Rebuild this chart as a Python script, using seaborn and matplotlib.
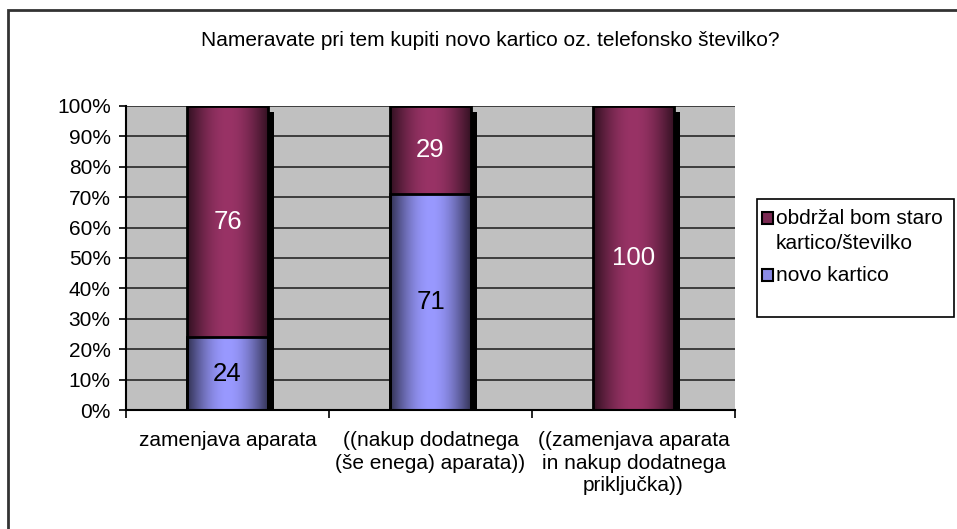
import numpy as np
import pandas as pd
import matplotlib
matplotlib.use("Agg")
import matplotlib.pyplot as plt
import matplotlib.transforms as mtransforms
from matplotlib.patches import Rectangle
import seaborn as sns

# --- data -------------------------------------------------------------
title = "Nameravate pri tem kupiti novo kartico oz. telefonsko številko?"
categories = [
    "zamenjava aparata",
    "((nakup dodatnega\n(še enega) aparata))",
    "((zamenjava aparata\nin nakup dodatnega\npriključka))",
]
series_names = ["obdržal bom staro\nkartico/številko", "novo kartico"]
keep_old = [76, 29, 100]
new_card = [24, 71, 0]
y_ticks = list(range(0, 101, 10))

MAROON = np.array([153, 51, 102]) / 255
BLUE = np.array([153, 153, 255]) / 255

df = pd.DataFrame({"kategorija": categories,
                   "obdrzal": keep_old,
                   "novo": new_card})
df["skupaj"] = df["obdrzal"] + df["novo"]

plt.rcParams["font.family"] = ["Liberation Sans", "DejaVu Sans"]
FS = 15

fig = plt.figure(figsize=(9.57, 5.29), dpi=100)
ax = fig.add_axes([126 / 957, 1 - 410 / 529, (735 - 126) / 957, (410 - 106) / 529])
ax.set_facecolor("#c0c0c0")

# stacked bars: total first, lower segment drawn on top of it
sns.barplot(data=df, x="kategorija", y="skupaj", color=MAROON, saturation=1,
            width=0.4, errorbar=None, ax=ax, order=categories)
n_top = len(ax.patches)
sns.barplot(data=df, x="kategorija", y="novo", color=BLUE, saturation=1,
            width=0.4, errorbar=None, ax=ax, order=categories)
top_bars = ax.patches[:n_top]
low_bars = ax.patches[n_top:]


def shade_profile(n=200):
    t = np.linspace(0, 1, n)
    return 0.32 + 0.68 * np.sin(np.pi * t) ** 1.0


prof = shade_profile()

# drop shadow behind each stacked column
shift = mtransforms.ScaledTranslation(6 / 100, -6 / 100, fig.dpi_scale_trans)
for p in top_bars:
    x0, w, h = p.get_x(), p.get_width(), p.get_height()
    sh = Rectangle((x0, 0), w, h, facecolor="black", edgecolor="none",
                   transform=ax.transData + shift, zorder=1.5)
    sh.set_clip_box(ax.bbox)
    ax.add_patch(sh)

# cylinder-like horizontal shading for every segment
for bars, base in ((top_bars, MAROON), (low_bars, BLUE)):
    for p in bars:
        x0, y0, w, h = p.get_x(), p.get_y(), p.get_width(), p.get_height()
        p.set_facecolor("none")
        p.set_edgecolor("black")
        p.set_linewidth(2)
        p.set_zorder(3)
        if h <= 0:
            continue
        img = (prof[:, None] * base[None, :])[None, :, :]
        im = ax.imshow(img, extent=(x0, x0 + w, y0, y0 + h), aspect="auto",
                       interpolation="bilinear", zorder=2)
        im.set_clip_path(p)

ax.set_xlim(-0.5, len(categories) - 0.5)
ax.set_ylim(0, 100)

# segment value labels
for i in range(len(categories)):
    if new_card[i] > 0:
        ax.text(i, new_card[i] / 2, f"{new_card[i]}", ha="center", va="center",
                fontsize=18.5, color="black", zorder=4)
    if keep_old[i] > 0:
        ax.text(i, new_card[i] + keep_old[i] / 2, f"{keep_old[i]}", ha="center",
                va="center", fontsize=18.5, color="white", zorder=4)

# axes styling
ax.set_yticks(y_ticks)
ax.set_yticklabels([f"{v}%" for v in y_ticks], fontsize=FS)
ax.yaxis.grid(True, color="#333333", linewidth=1.3, zorder=1)
ax.set_axisbelow(True)
ax.tick_params(axis="y", length=5, width=1.2, pad=6, color="black")
ax.set_xticks(range(len(categories)))
ax.set_xticklabels(categories, fontsize=FS, linespacing=1.25)
ax.set_xticks(np.arange(-0.5, len(categories), 1.0), minor=True)
ax.tick_params(axis="x", which="major", length=0, pad=15)
ax.tick_params(axis="x", which="minor", length=6, width=1.2, color="black")
ax.set_xlabel("")
ax.set_ylabel("")
for side in ("top", "right"):
    ax.spines[side].set_visible(False)
for side in ("left", "bottom"):
    ax.spines[side].set_color("black")
    ax.spines[side].set_linewidth(1.5)

# title
fig.text(490 / 957, 1 - 40 / 529, title, ha="center", va="center", fontsize=FS)

# legend drawn in figure pixels
W, H = 957, 529
def fx(x):
    return x / W
def fy(y):
    return 1 - y / H

fig.add_artist(Rectangle((fx(757), fy(317)), fx(954) - fx(757), fy(199) - fy(317),
                         transform=fig.transFigure, fill=False, edgecolor="black",
                         linewidth=1.2))
legend_rows = [(series_names[0], MAROON * 0.8, 224), (series_names[1], BLUE * 0.9, 281)]
LINE_STEP = 25
for label, col, base_y in legend_rows:
    fig.add_artist(Rectangle((fx(762), fy(base_y)), fx(773) - fx(762), fy(base_y - 12) - fy(base_y),
                             transform=fig.transFigure, facecolor=col,
                             edgecolor="black", linewidth=1.5))
    for k, line in enumerate(label.split("\n")):
        fig.text(fx(776), fy(base_y + k * LINE_STEP), line, ha="left", va="baseline",
                 fontsize=FS, transform=fig.transFigure)

# outer chart frame
fig.add_artist(Rectangle((fx(8), -0.1), 1.2, fy(10) + 0.1, transform=fig.transFigure,
                         fill=False, edgecolor="#333333", linewidth=2))

fig.savefig("out.png", dpi=100)
